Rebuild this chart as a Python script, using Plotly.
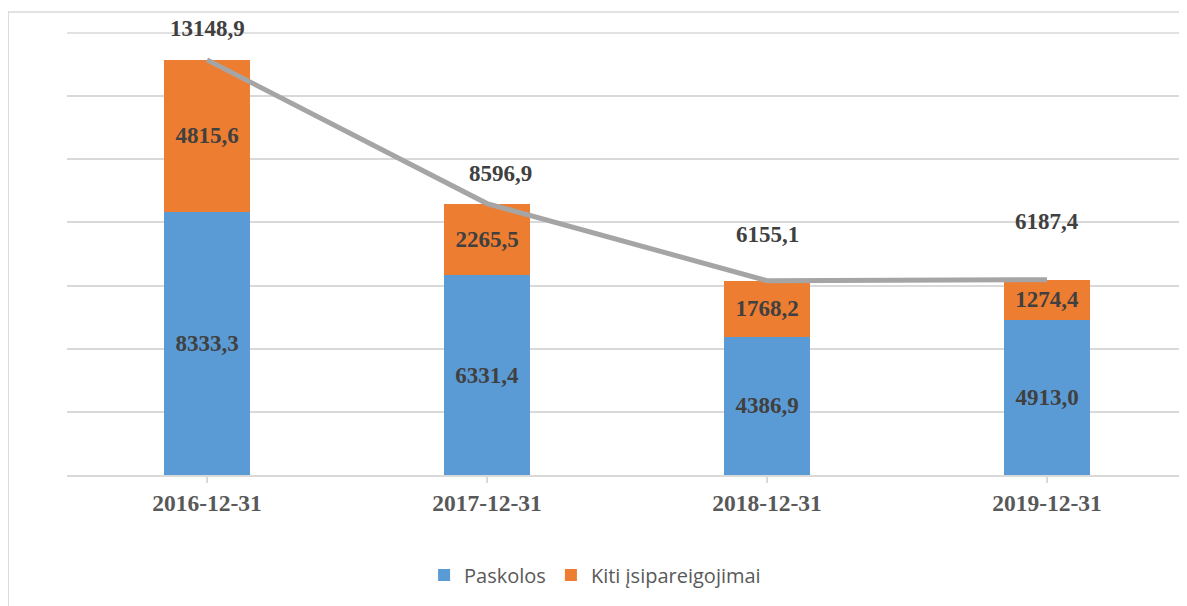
import plotly.graph_objects as go

categories = ["2016-12-31", "2017-12-31", "2018-12-31", "2019-12-31"]
paskolos = [8333.3, 6331.4, 4386.9, 4913.0]
kiti = [4815.6, 2265.5, 1768.2, 1274.4]
totals = [13148.9, 8596.9, 6155.1, 6187.4]

def fmt(v):
    return f"{v:.1f}".replace(".", ",")

label_font = dict(family="Liberation Serif", size=23, color="#404040")

fig = go.Figure()
fig.add_trace(go.Bar(
    x=categories, y=paskolos, name="Paskolos",
    marker=dict(color="#5B9BD5", line=dict(width=0)),
    text=[fmt(v) for v in paskolos], textposition="inside",
    insidetextanchor="middle", textangle=0,
    textfont=label_font, constraintext="none",
    hoverinfo="skip",
))
fig.add_trace(go.Bar(
    x=categories, y=kiti, name="Kiti įsipareigojimai",
    marker=dict(color="#ED7D31", line=dict(width=0)),
    text=[fmt(v) for v in kiti], textposition="inside",
    insidetextanchor="middle", textangle=0,
    textfont=label_font, constraintext="none",
    hoverinfo="skip",
))
fig.add_trace(go.Scatter(
    x=categories, y=totals, mode="lines", showlegend=False,
    line=dict(color="#A5A5A5", width=5), hoverinfo="skip",
))

# total labels (manual offsets as in reference)
yshifts = [31, 30, 46, 58]
xshifts = [0, 13, 0, 0]
for c, t, ys, xs in zip(categories, totals, yshifts, xshifts):
    fig.add_annotation(x=c, y=t, text=f"<b>{fmt(t)}</b>", showarrow=False,
                       yshift=ys, xshift=xs, font=label_font,
                       xanchor="center", yanchor="middle")

fig.update_traces(selector=dict(type="bar"), texttemplate="<b>%{text}</b>")

# top gridline (at the upper edge of the value range)
fig.add_shape(type="line", xref="paper", yref="paper", x0=0, x1=1, y0=1, y1=1,
              line=dict(color="#D9D9D9", width=1.5), layer="below")

# outer chart border
fig.add_shape(type="rect", xref="paper", yref="paper",
              x0=-0.0525, x1=1.0005, y0=-0.32, y1=1.0475,
              line=dict(color="#D9D9D9", width=1.5), fillcolor="rgba(0,0,0,0)",
              layer="below")

# page body has an 8px margin: compensate in figure size and margins
fig.update_layout(
    width=1179, height=598,
    margin=dict(l=59, r=0, t=25, b=131),
    paper_bgcolor="white", plot_bgcolor="white",
    barmode="stack", bargap=0.69,
    showlegend=True,
    legend=dict(orientation="h", x=0.4715, xanchor="center", y=-0.226,
                yanchor="middle", font=dict(family="Open Sans", size=20, color="#595959"),
                itemwidth=30, traceorder="normal"),
    xaxis=dict(showline=True, linecolor="#D9D9D9", linewidth=1.5,
               ticks="outside", tickson="boundaries", ticklen=6,
               tickcolor="#D9D9D9", tickwidth=1.5,
               tickfont=dict(family="Liberation Serif", size=23.5, color="#595959"),
               tickvals=categories, ticktext=[f"<b>{c}</b>" for c in categories],
               showgrid=False),
    yaxis=dict(range=[0, 14000], dtick=2000, tick0=0, showgrid=True, gridcolor="#D9D9D9",
               gridwidth=1.5, showticklabels=False, zeroline=False, showline=False),
)

fig.write_html("out.html")
